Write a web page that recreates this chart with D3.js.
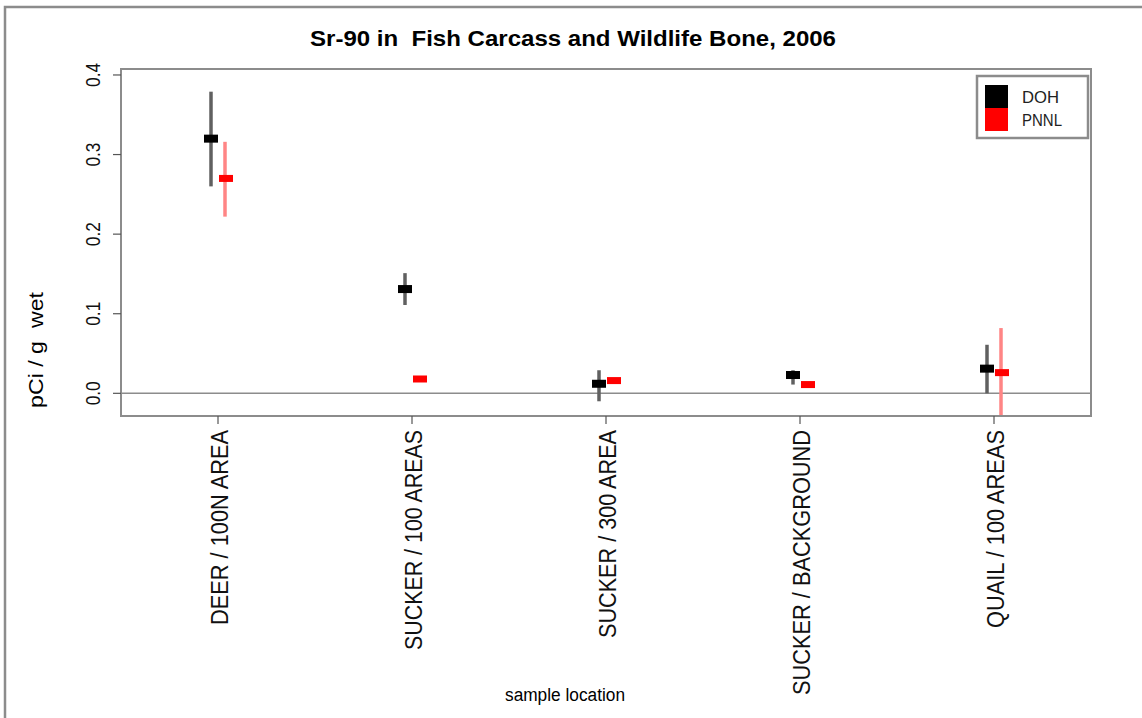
<!DOCTYPE html>
<html>
<head>
<meta charset="utf-8">
<script src="https://cdn.jsdelivr.net/npm/d3@7"></script>
<style>
  html, body { margin: 0; padding: 0; background: #fff; }
  svg { display: block; font-family: "Liberation Sans", Arial, sans-serif; }
  text { white-space: pre; }
</style>
</head>
<body>
<svg id="chart" width="1142" height="718"></svg>
<script>
// Sr-90 measurements by sample location, two laboratories
const categories = ["DEER / 100N AREA", "SUCKER / 100 AREAS", "SUCKER / 300 AREA", "SUCKER / BACKGROUND", "QUAIL / 100 AREAS"];
const dohValue = [0.320, 0.131, 0.012, 0.023, 0.031];
const dohLow   = [0.260, 0.111, -0.010, 0.011, 0.000];
const dohHigh  = [0.379, 0.151, 0.029, 0.029, 0.061];
const pnnlValue = [0.270, 0.018, 0.016, 0.011, 0.026];
const pnnlLow   = [0.222, 0.016, 0.014, 0.009, -0.030];
const pnnlHigh  = [0.316, 0.020, 0.018, 0.013, 0.082];
const yTicks = [0.0, 0.1, 0.2, 0.3, 0.4];
const seriesNames = ["DOH", "PNNL"];

const svg = d3.select("#chart");

// outer frame (top and left edges)
svg.append("path")
  .attr("d", "M5,718 V7 H1142")
  .attr("fill", "none").attr("stroke", "#8c8c8c").attr("stroke-width", 2.5);

const plot = { left: 121, right: 1091, top: 69, bottom: 416 };

const x = d3.scalePoint().domain(categories).range([plot.left, plot.right]).padding(0.5);
const y = d3.scaleLinear().domain([-0.0285, 0.4075]).range([plot.bottom, plot.top]);

// title
svg.append("text")
  .attr("x", 573).attr("y", 46)
  .attr("text-anchor", "middle")
  .attr("font-size", 22).attr("font-weight", "bold")
  .attr("textLength", 526).attr("lengthAdjust", "spacingAndGlyphs")
  .text("Sr-90 in  Fish Carcass and Wildlife Bone, 2006");

svg.append("clipPath").attr("id", "plotclip")
  .append("rect")
  .attr("x", plot.left).attr("y", plot.top)
  .attr("width", plot.right - plot.left).attr("height", plot.bottom - plot.top);

// zero reference line
svg.append("line")
  .attr("x1", plot.left).attr("x2", plot.right)
  .attr("y1", y(0)).attr("y2", y(0))
  .attr("stroke", "#8c8c8c").attr("stroke-width", 1.6);

const series = [
  { name: "DOH", value: dohValue, low: dohLow, high: dohHigh, offset: -7, bar: "#606060", mark: "#000000", mh: 8 },
  { name: "PNNL", value: pnnlValue, low: pnnlLow, high: pnnlHigh, offset: 7, bar: "#ff8585", mark: "#ff0000", mh: 7 }
];

const marks = svg.append("g").attr("clip-path", "url(#plotclip)");

series.forEach(s => {
  marks.append("g").selectAll("line")
    .data(categories)
    .join("line")
    .attr("x1", (c) => x(c) + s.offset)
    .attr("x2", (c) => x(c) + s.offset)
    .attr("y1", (c, i) => y(s.low[i]))
    .attr("y2", (c, i) => y(s.high[i]))
    .attr("stroke", s.bar).attr("stroke-width", 3.5);
});
series.forEach(s => {
  marks.append("g").selectAll("rect")
    .data(categories)
    .join("rect")
    .attr("x", (c) => x(c) + s.offset - 7 + (s.name === "PNNL" ? 1 : 0))
    .attr("y", (c, i) => y(s.value[i]) - s.mh / 2)
    .attr("width", 14).attr("height", s.mh)
    .attr("fill", s.mark);
});

// plot box
svg.append("rect")
  .attr("x", plot.left).attr("y", plot.top)
  .attr("width", plot.right - plot.left).attr("height", plot.bottom - plot.top)
  .attr("fill", "none").attr("stroke", "#8c8c8c").attr("stroke-width", 2);

// y axis ticks and labels
const yAxis = svg.append("g");
yAxis.selectAll("line.tick")
  .data(yTicks).join("line")
  .attr("class", "tick")
  .attr("x1", plot.left - 8).attr("x2", plot.left)
  .attr("y1", d => y(d)).attr("y2", d => y(d))
  .attr("stroke", "#555").attr("stroke-width", 1.2);
yAxis.selectAll("text")
  .data(yTicks).join("text")
  .attr("transform", d => `translate(100,${y(d)}) rotate(-90)`)
  .attr("text-anchor", "middle")
  .attr("font-size", 20)
  .attr("textLength", 24).attr("lengthAdjust", "spacingAndGlyphs")
  .attr("fill", "#111")
  .text(d => d3.format(".1f")(d));

svg.append("text")
  .attr("transform", "translate(43,350) rotate(-90)")
  .attr("text-anchor", "middle")
  .attr("font-size", 21)
  .attr("textLength", 116).attr("lengthAdjust", "spacingAndGlyphs")
  .text("pCi / g  wet");

// x axis ticks and labels
const xAxis = svg.append("g");
xAxis.selectAll("line")
  .data(categories).join("line")
  .attr("x1", d => x(d)).attr("x2", d => x(d))
  .attr("y1", plot.bottom).attr("y2", plot.bottom + 8)
  .attr("stroke", "#555").attr("stroke-width", 1.2);
const labelLen = { "DEER / 100N AREA": 195, "SUCKER / 100 AREAS": 220, "SUCKER / 300 AREA": 208, "SUCKER / BACKGROUND": 265, "QUAIL / 100 AREAS": 198 };
xAxis.selectAll("text")
  .data(categories).join("text")
  .attr("transform", d => `translate(${x(d) + 10},430) rotate(-90)`)
  .attr("text-anchor", "end")
  .attr("font-size", 23)
  .attr("textLength", d => labelLen[d]).attr("lengthAdjust", "spacingAndGlyphs")
  .attr("fill", "#111")
  .text(d => d);

svg.append("text")
  .attr("x", 565).attr("y", 701)
  .attr("text-anchor", "middle")
  .attr("font-size", 18)
  .attr("textLength", 120).attr("lengthAdjust", "spacingAndGlyphs")
  .text("sample location");

// legend
const legend = svg.append("g");
legend.append("rect")
  .attr("x", 977).attr("y", 76).attr("width", 111).attr("height", 62)
  .attr("fill", "#fff").attr("stroke", "#8c8c8c").attr("stroke-width", 2.5);
const legendColors = ["#000000", "#ff0000"];
const legendLen = [37, 40];
seriesNames.forEach((n, i) => {
  legend.append("rect")
    .attr("x", 985).attr("y", 85 + i * 23).attr("width", 23).attr("height", 23)
    .attr("fill", legendColors[i]);
  legend.append("text")
    .attr("x", 1022).attr("y", 103 + i * 23)
    .attr("font-size", 17)
    .attr("textLength", legendLen[i]).attr("lengthAdjust", "spacingAndGlyphs")
    .attr("fill", "#222")
    .text(n);
});
</script>
</body>
</html>
